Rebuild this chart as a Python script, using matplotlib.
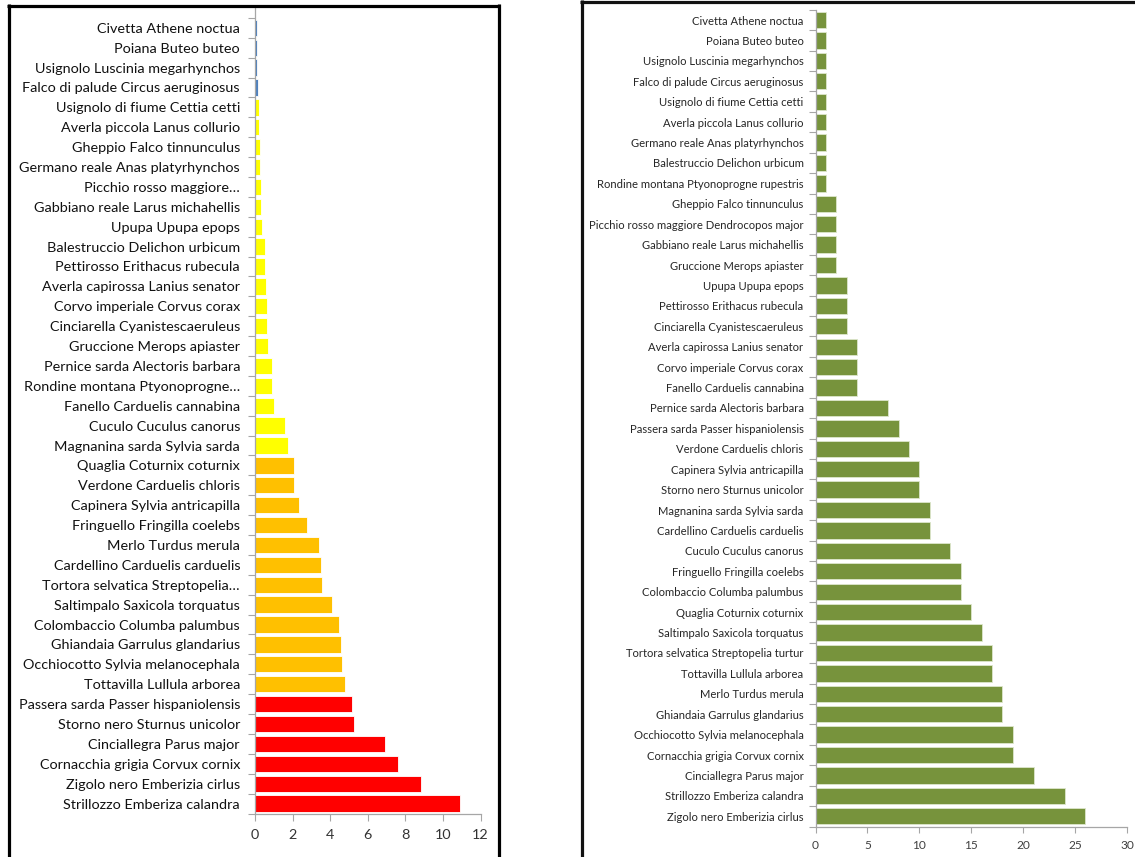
import matplotlib
matplotlib.use("Agg")
import matplotlib.pyplot as plt
from matplotlib.lines import Line2D
from matplotlib import font_manager
import numpy as np

# ---- data -------------------------------------------------------------
left_species = [
    "Civetta Athene noctua", "Poiana Buteo buteo", "Usignolo Luscinia megarhynchos",
    "Falco di palude Circus aeruginosus", "Usignolo di fiume Cettia cetti",
    "Averla piccola Lanus collurio", "Gheppio Falco tinnunculus",
    "Germano reale Anas platyrhynchos", "Picchio rosso maggiore…",
    "Gabbiano reale Larus michahellis", "Upupa Upupa epops",
    "Balestruccio Delichon urbicum", "Pettirosso Erithacus rubecula",
    "Averla capirossa Lanius senator", "Corvo imperiale Corvus corax",
    "Cinciarella Cyanistescaeruleus", "Gruccione Merops apiaster",
    "Pernice sarda Alectoris barbara", "Rondine montana Ptyonoprogne…",
    "Fanello Carduelis cannabina", "Cuculo Cuculus canorus",
    "Magnanina sarda Sylvia sarda", "Quaglia Coturnix coturnix",
    "Verdone Carduelis chloris", "Capinera Sylvia antricapilla",
    "Fringuello Fringilla coelebs", "Merlo Turdus merula",
    "Cardellino Carduelis carduelis", "Tortora selvatica Streptopelia…",
    "Saltimpalo Saxicola torquatus", "Colombaccio Columba palumbus",
    "Ghiandaia Garrulus glandarius", "Occhiocotto Sylvia melanocephala",
    "Tottavilla Lullula arborea", "Passera sarda Passer hispaniolensis",
    "Storno nero Sturnus unicolor", "Cinciallegra Parus major",
    "Cornacchia grigia Corvux cornix", "Zigolo nero Emberizia cirlus",
    "Strillozzo Emberiza calandra",
]
left_values = [
    0.09, 0.09, 0.09, 0.14, 0.20, 0.20, 0.25, 0.25, 0.30, 0.30,
    0.37, 0.51, 0.51, 0.58, 0.62, 0.66, 0.71, 0.90, 0.90, 1.01,
    1.60, 1.74, 2.07, 2.09, 2.32, 2.75, 3.40, 3.49, 3.55, 4.08,
    4.47, 4.57, 4.63, 4.80, 5.16, 5.28, 6.91, 7.59, 8.81, 10.90,
]
# abundance class of each species (0 = rare ... 3 = most common)
left_class = [0] * 4 + [1] * 18 + [2] * 12 + [3] * 6
left_ticks = [0, 2, 4, 6, 8, 10, 12]

right_species = [
    "Civetta Athene noctua", "Poiana Buteo buteo", "Usignolo Luscinia megarhynchos",
    "Falco di palude Circus aeruginosus", "Usignolo di fiume Cettia cetti",
    "Averla piccola Lanus collurio", "Germano reale Anas platyrhynchos",
    "Balestruccio Delichon urbicum", "Rondine montana Ptyonoprogne rupestris",
    "Gheppio Falco tinnunculus", "Picchio rosso maggiore Dendrocopos major",
    "Gabbiano reale Larus michahellis", "Gruccione Merops apiaster",
    "Upupa Upupa epops", "Pettirosso Erithacus rubecula",
    "Cinciarella Cyanistescaeruleus", "Averla capirossa Lanius senator",
    "Corvo imperiale Corvus corax", "Fanello Carduelis cannabina",
    "Pernice sarda Alectoris barbara", "Passera sarda Passer hispaniolensis",
    "Verdone Carduelis chloris", "Capinera Sylvia antricapilla",
    "Storno nero Sturnus unicolor", "Magnanina sarda Sylvia sarda",
    "Cardellino Carduelis carduelis", "Cuculo Cuculus canorus",
    "Fringuello Fringilla coelebs", "Colombaccio Columba palumbus",
    "Quaglia Coturnix coturnix", "Saltimpalo Saxicola torquatus",
    "Tortora selvatica Streptopelia turtur", "Tottavilla Lullula arborea",
    "Merlo Turdus merula", "Ghiandaia Garrulus glandarius",
    "Occhiocotto Sylvia melanocephala", "Cornacchia grigia Corvux cornix",
    "Cinciallegra Parus major", "Strillozzo Emberiza calandra",
    "Zigolo nero Emberizia cirlus",
]
right_values = [
    1, 1, 1, 1, 1, 1, 1, 1, 1, 2, 2, 2, 2, 3, 3, 3, 4, 4, 4, 7,
    8, 9, 10, 10, 11, 11, 13, 14, 14, 15, 16, 17, 17, 18, 18, 19, 19, 21, 24, 26,
]
right_ticks = [0, 5, 10, 15, 20, 25, 30]

# ---- styling ----------------------------------------------------------
installed = {f.name for f in font_manager.fontManager.ttflist}
main_font = "Lato" if "Lato" in installed else "DejaVu Sans"
narrow_font = "Liberation Sans Narrow" if "Liberation Sans Narrow" in installed else main_font
narrow_size = 9.0 if narrow_font != main_font else 8.1

class_colors = ["#4F81BD", "#FFFF00", "#FFC000", "#FF0000"]
green = "#77933C"
axis_gray = "#A6A6A6"

W, H = 1135, 857
fig = plt.figure(figsize=(W / 100, H / 100), dpi=100)
fig.patch.set_facecolor("white")


def px_axes(x0, x1, y_top, y_bot):
    """Create axes from pixel bounds (origin at top-left)."""
    return fig.add_axes([x0 / W, 1 - y_bot / H, (x1 - x0) / W, (y_bot - y_top) / H])


def style_axes(ax, labels, ticks, font, label_size, tick_size, label_color,
               tick_color, label_pad):
    n = len(labels)
    pos = np.arange(n)
    ax.set_yticks(pos)
    ax.set_yticklabels(labels, fontfamily=font, fontsize=label_size, color=label_color)
    ax.set_yticks(np.arange(n + 1) - 0.5, minor=True)
    ax.tick_params(axis="y", which="major", length=0, pad=label_pad)
    ax.tick_params(axis="y", which="minor", length=5, width=0.8, color=axis_gray)
    ax.set_xticks(ticks)
    ax.set_xticklabels([str(t) for t in ticks], fontfamily=font,
                       fontsize=tick_size, color=tick_color)
    ax.tick_params(axis="x", which="major", length=5, width=0.8, color=axis_gray, pad=6)
    ax.set_xlim(ticks[0], ticks[-1])
    for side in ("top", "right"):
        ax.spines[side].set_visible(False)
    for side in ("left", "bottom"):
        ax.spines[side].set_color(axis_gray)
        ax.spines[side].set_linewidth(0.9)
    ax.set_facecolor("none")


# ---- left chart: colour-coded abundance index --------------------------
ax1 = px_axes(255, 480.6, 7.9, 813.5)
y1 = np.arange(len(left_species))
ax1.barh(y1, left_values, height=0.82,
         color=[class_colors[c] for c in left_class],
         edgecolor="white", linewidth=0.6, zorder=2)
style_axes(ax1, left_species, left_ticks, main_font, 10.4, 10.4,
           "#111111", "#333333", 10.8)
ax1.set_ylim(len(left_species) - 0.5, -1.0)

# ---- right chart: counts -------------------------------------------------
ax2 = px_axes(815.5, 1127, 9.8, 826.5)
y2 = np.arange(len(right_species))
ax2.barh(y2, right_values, height=0.8, color=green,
         edgecolor="#DDE6CC", linewidth=0.6, zorder=2)
style_axes(ax2, right_species, right_ticks, narrow_font, narrow_size, 8.6,
           "#262626", "#404040", 8.6)
ax2.tick_params(axis="x", which="major", length=4)
ax2.set_ylim(len(right_species) - 0.5, -0.5)

# ---- panel frames -----------------------------------------------------
def frame_line(xs, ys, color, lw):
    fig.add_artist(Line2D([x / W for x in xs], [1 - y / H for y in ys],
                          transform=fig.transFigure, color=color, linewidth=lw,
                          solid_capstyle="butt"))

frame_line([8.5, 8.5], [4.0, H + 5], "black", 2.3)
frame_line([7.0, 500.0], [5.5, 5.5], "black", 2.3)
frame_line([498.8, 498.8], [4.0, H + 5], "black", 2.3)

frame_line([581.5, 581.5], [0.0, H + 5], "#111111", 2.3)
frame_line([580.0, W + 5], [1.5, 1.5], "#111111", 2.3)

fig.savefig("out.png", dpi=100, facecolor="white")
